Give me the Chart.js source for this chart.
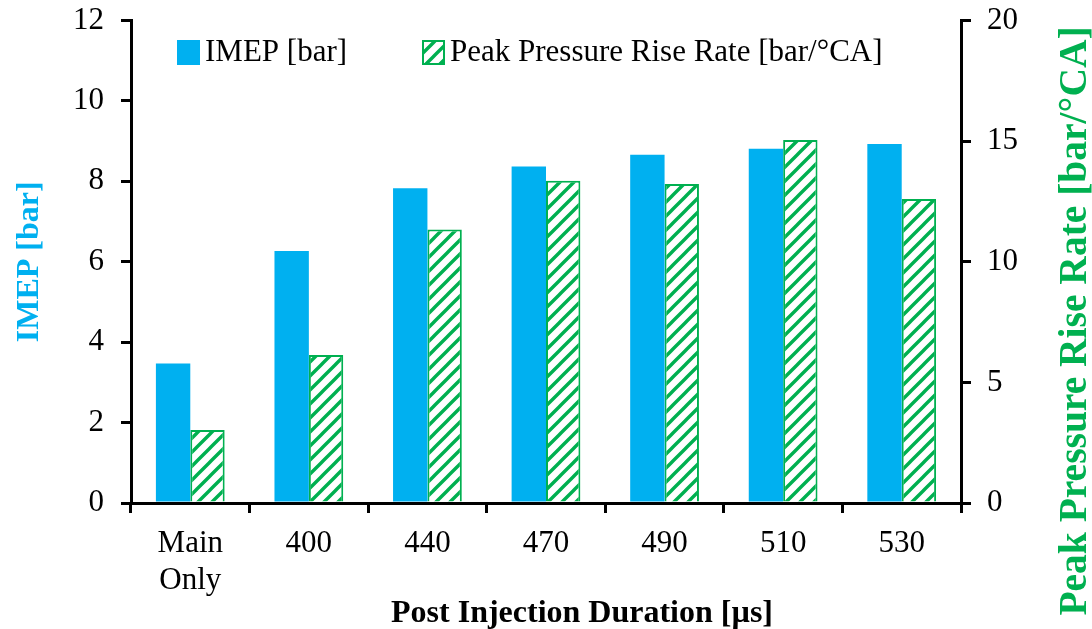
<!DOCTYPE html>
<html>
<head>
<meta charset="utf-8">
<script src="https://cdn.jsdelivr.net/npm/chart.js@4"></script>
<style>
html,body{margin:0;padding:0;background:#fff;}
#wrap{width:1092px;height:629px;position:relative;}
</style>
</head>
<body>
<div id="wrap"><canvas id="c" width="1092" height="629"></canvas></div>
<script>
// ---- data ----
const categories = [['Main','Only'], '400', '440', '470', '490', '510', '530'];
const imepValues = [3.47, 6.27, 7.83, 8.37, 8.66, 8.81, 8.93];
const pprrValues = [3.03, 6.13, 11.34, 13.36, 13.22, 15.05, 12.60];
const seriesNames = ['IMEP [bar]', 'Peak Pressure Rise Rate [bar/°CA]'];
const leftAxisTitle = 'IMEP [bar]';
const rightAxisTitle = 'Peak Pressure Rise Rate [bar/°CA]';
const xAxisTitle = 'Post Injection Duration [µs]';
const leftTicks = {min: 0, max: 12, step: 2};
const rightTicks = {min: 0, max: 20, step: 5};

const BLUE = '#00B0F0';
const GREEN = '#00B050';
const FONT = "'Liberation Serif', 'Times New Roman', serif";

function makeHatch() {
  const s = 14;
  const c = document.createElement('canvas');
  c.width = s; c.height = s;
  const g = c.getContext('2d');
  g.fillStyle = '#fff';
  g.fillRect(0, 0, s, s);
  g.strokeStyle = GREEN;
  g.lineWidth = 3.4;
  g.beginPath();
  g.moveTo(-2, s + 2); g.lineTo(s + 2, -2);
  g.moveTo(-s / 2 - 2, s / 2 + 2); g.lineTo(s / 2 + 2, -s / 2 - 2);
  g.moveTo(s / 2 - 2, s * 1.5 + 2); g.lineTo(s * 1.5 + 2, s / 2 - 2);
  g.stroke();
  return g.createPattern(c, 'repeat');
}
const hatch = makeHatch();

const customDecor = {
  id: 'customDecor',
  afterDraw(chart) {
    const ctx = chart.ctx;
    ctx.save();
    // legend
    ctx.font = '31px ' + FONT;
    ctx.textBaseline = 'middle';
    ctx.textAlign = 'left';
    ctx.fillStyle = BLUE;
    ctx.fillRect(177, 40, 23, 25);
    ctx.fillStyle = '#000';
    ctx.fillText(seriesNames[0], 205, 53);
    ctx.fillStyle = hatch;
    ctx.fillRect(422, 40, 23, 25);
    ctx.strokeStyle = GREEN;
    ctx.lineWidth = 2;
    ctx.strokeRect(423, 41, 21, 23);
    ctx.fillStyle = '#000';
    ctx.fillText(seriesNames[1], 450, 53);
    // x axis title
    ctx.font = 'bold 32px ' + FONT;
    ctx.textAlign = 'center';
    ctx.textBaseline = 'alphabetic';
    ctx.fillText(xAxisTitle, 582, 621.5);
    // right axis title (reads bottom-to-top)
    ctx.translate(1076, 321);
    ctx.rotate(-Math.PI / 2);
    ctx.font = 'bold 39.5px ' + FONT;
    ctx.fillStyle = GREEN;
    ctx.textAlign = 'center';
    ctx.textBaseline = 'middle';
    ctx.fillText(rightAxisTitle, 0, 0);
    ctx.restore();
  }
};

const tickFont = {family: FONT, size: 31};
function fixVertical(s, w) {
  s.width = w;
  s.paddingTop = 0;
  s.paddingBottom = 0;
}

new Chart(document.getElementById('c'), {
  type: 'bar',
  data: {
    labels: categories,
    datasets: [
      {label: seriesNames[0], data: imepValues, yAxisID: 'y', backgroundColor: BLUE, borderWidth: 0},
      {label: seriesNames[1], data: pprrValues, yAxisID: 'y1', backgroundColor: hatch, borderColor: GREEN, borderWidth: 2}
    ]
  },
  options: {
    responsive: false,
    animation: false,
    events: [],
    categoryPercentage: 0.58,
    barPercentage: 1.0,
    layout: {padding: {top: 20.5, left: 0, right: 0, bottom: 0}},
    plugins: {legend: {display: false}, tooltip: {enabled: false}},
    scales: {
      x: {
        offset: true,
        grid: {display: true, drawOnChartArea: false, drawTicks: true, tickLength: 10, color: '#000', lineWidth: 3, offset: true},
        border: {display: true, color: '#000', width: 3},
        ticks: {color: '#000', font: tickFont, padding: 12, maxRotation: 0, autoSkip: false},
        title: {display: false},
        afterFit(s) { s.height = 126; s.paddingLeft = 0; s.paddingRight = 0; }
      },
      y: {
        position: 'left',
        min: leftTicks.min, max: leftTicks.max,
        grid: {display: true, drawOnChartArea: false, drawTicks: true, tickLength: 10, color: '#000', lineWidth: 3},
        border: {display: true, color: '#000', width: 3},
        ticks: {stepSize: leftTicks.step, color: '#000', font: tickFont, padding: 17},
        title: {display: true, text: leftAxisTitle, color: BLUE, font: {family: FONT, size: 32, weight: 'bold', lineHeight: 1.2}, padding: {top: 11, bottom: 0}},
        afterFit(s) { fixVertical(s, 131); }
      },
      y1: {
        position: 'right',
        min: rightTicks.min, max: rightTicks.max,
        grid: {display: true, drawOnChartArea: false, drawTicks: true, tickLength: 10, color: '#000', lineWidth: 3},
        border: {display: true, color: '#000', width: 3},
        ticks: {stepSize: rightTicks.step, color: '#000', font: tickFont, padding: 16},
        afterFit(s) { fixVertical(s, 131); }
      }
    }
  },
  plugins: [customDecor]
});
</script>
</body>
</html>
